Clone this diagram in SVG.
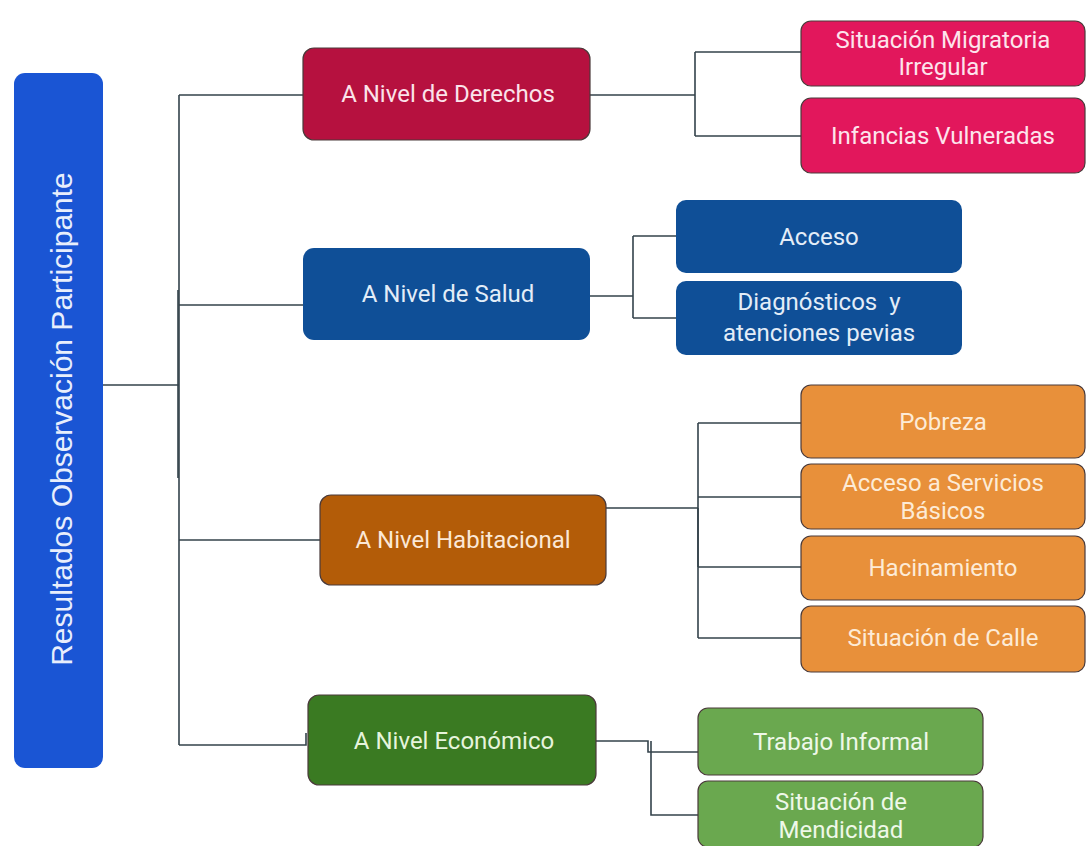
<svg xmlns="http://www.w3.org/2000/svg" width="1088" height="846" viewBox="0 0 1088 846">
<style>
.t{font-family:Roboto,"Liberation Sans",sans-serif;font-size:24px;text-anchor:middle;dominant-baseline:central}
.c{fill:none;stroke:#34434b;stroke-width:1.6}
.b{stroke:#4a3a3a;stroke-width:1.2}
</style>
<rect width="1088" height="846" fill="#ffffff"/>
<g id="connectors">
<path class="c" d="M103 385H179M179 95V745M179 95H304M179 305H304M179 540H320M179 745H306V733"/>
<path class="c" stroke-width="2.6" d="M178 290V478"/>
<path class="c" d="M590 95H695M695 52V136M695 52H802M695 136H802"/>
<path class="c" d="M590 296H633M633 236V318M633 236H676M633 318H676"/>
<path class="c" d="M605 508H698M698 423V638M698 423H801M698 497H801M698 567H801M698 638H801"/>
<path class="c" stroke-width="2.6" d="M698 508V567"/>
<path class="c" d="M596 741H648V752H698M651 741V815H698"/>
</g>
<g id="root">
<rect x="14" y="73" width="89" height="695" rx="11" fill="#1a55d4"/>
<text transform="translate(61 419) rotate(-90)" style="font-family:'Liberation Sans',Arial,sans-serif;font-size:30px;text-anchor:middle;dominant-baseline:central" fill="#e8eefc">Resultados Observación Participante</text>
</g>
<g id="n-derechos">
<rect x="303" y="48" width="287" height="92" rx="11" fill="#b6113f" class="b"/>
<text class="t" x="448" y="94" fill="#fbe3ea">A Nivel de Derechos</text>
</g>
<g id="n-salud">
<rect x="303" y="248" width="287" height="92" rx="11" fill="#0f4f97"/>
<text class="t" x="448" y="294" fill="#e3edf8">A Nivel de Salud</text>
</g>
<g id="n-habitacional">
<rect x="320" y="495" width="286" height="90" rx="11" fill="#b35c08" class="b"/>
<text class="t" x="463" y="540" fill="#fbe8d6">A Nivel Habitacional</text>
</g>
<g id="n-economico">
<rect x="308" y="695" width="288" height="90" rx="11" fill="#3a7a22" class="b"/>
<text class="t" x="454" y="741" fill="#e6f4dc">A Nivel Económico</text>
</g>
<g id="n-migratoria">
<rect x="801" y="21" width="284" height="65" rx="10" fill="#e2175c" class="b"/>
<text class="t" x="943" y="40" fill="#fde4ec">Situación Migratoria</text>
<text class="t" x="943" y="67" fill="#fde4ec">Irregular</text>
</g>
<g id="n-infancias">
<rect x="801" y="98" width="284" height="75" rx="10" fill="#e2175c" class="b"/>
<text class="t" x="943" y="136" fill="#fde4ec">Infancias Vulneradas</text>
</g>
<g id="n-acceso">
<rect x="676" y="200" width="286" height="73" rx="10" fill="#0f4f97"/>
<text class="t" x="819" y="237" fill="#e3edf8">Acceso</text>
</g>
<g id="n-diagnosticos">
<rect x="676" y="281" width="286" height="74" rx="10" fill="#0f4f97"/>
<text class="t" x="819" y="302" fill="#e3edf8" style="white-space:pre">Diagnósticos  y</text>
<text class="t" x="819" y="333" fill="#e3edf8">atenciones pevias</text>
</g>
<g id="n-pobreza">
<rect x="801" y="385" width="284" height="73" rx="10" fill="#e8903a" class="b"/>
<text class="t" x="943" y="422" fill="#fdebd6">Pobreza</text>
</g>
<g id="n-servicios">
<rect x="801" y="464" width="284" height="65" rx="10" fill="#e8903a" class="b"/>
<text class="t" x="943" y="483" fill="#fdebd6">Acceso a Servicios</text>
<text class="t" x="943" y="511" fill="#fdebd6">Básicos</text>
</g>
<g id="n-hacinamiento">
<rect x="801" y="536" width="284" height="64" rx="10" fill="#e8903a" class="b"/>
<text class="t" x="943" y="568" fill="#fdebd6">Hacinamiento</text>
</g>
<g id="n-calle">
<rect x="801" y="606" width="284" height="66" rx="10" fill="#e8903a" class="b"/>
<text class="t" x="943" y="638" fill="#fdebd6">Situación de Calle</text>
</g>
<g id="n-trabajo">
<rect x="698" y="708" width="285" height="67" rx="10" fill="#6aa84f" class="b"/>
<text class="t" x="841" y="742" fill="#eef8e8">Trabajo Informal</text>
</g>
<g id="n-mendicidad">
<rect x="698" y="781" width="285" height="66" rx="10" fill="#6aa84f" class="b"/>
<text class="t" x="841" y="802" fill="#eef8e8">Situación de</text>
<text class="t" x="841" y="830" fill="#eef8e8">Mendicidad</text>
</g>
</svg>
